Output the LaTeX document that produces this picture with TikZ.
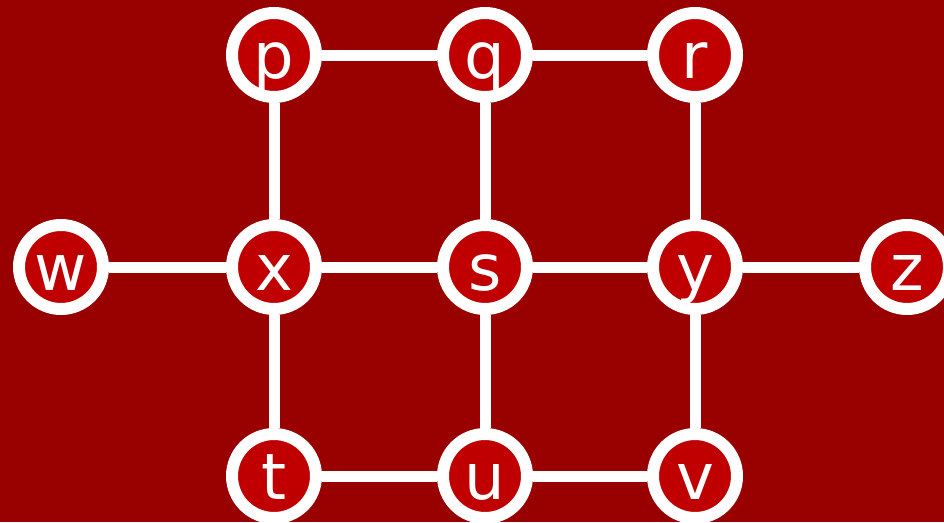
\documentclass[tikz,border=0pt]{standalone}
\usepackage{fontspec}
\setmainfont{DejaVu Sans}
\definecolor{bgred}{HTML}{990000}
\definecolor{nodered}{HTML}{C00000}
\begin{document}
\begin{tikzpicture}[x=1pt,y=1pt,
  vnode/.style={circle, draw=white, fill=nodered, line width=12pt, minimum size=84pt, inner sep=0pt,
    text=white, font=\fontsize{64}{64}\selectfont, text height=46pt, text depth=0pt},
  link/.style={draw=white, line width=11pt}]
\fill[bgred] (0,0) rectangle (944,-522);
\useasboundingbox (0,0) rectangle (944,-522);
\node[vnode] (p) at (274,-55) {p};
\node[vnode] (q) at (485,-55) {q};
\node[vnode] (r) at (695,-55) {r};
\node[vnode] (w) at (61,-267) {w};
\node[vnode] (x) at (274,-267) {x};
\node[vnode] (s) at (485,-267) {s};
\node[vnode] (y) at (695,-267) {y};
\node[vnode] (z) at (907,-267) {z};
\node[vnode] (t) at (274,-476) {t};
\node[vnode] (u) at (485,-476) {u};
\node[vnode] (v) at (695,-476) {v};
\draw[link] (p) -- (q);
\draw[link] (q) -- (r);
\draw[link] (p) -- (x);
\draw[link] (q) -- (s);
\draw[link] (r) -- (y);
\draw[link] (w) -- (x);
\draw[link] (x) -- (s);
\draw[link] (s) -- (y);
\draw[link] (y) -- (z);
\draw[link] (x) -- (t);
\draw[link] (s) -- (u);
\draw[link] (y) -- (v);
\draw[link] (t) -- (u);
\draw[link] (u) -- (v);
\end{tikzpicture}
\end{document}
